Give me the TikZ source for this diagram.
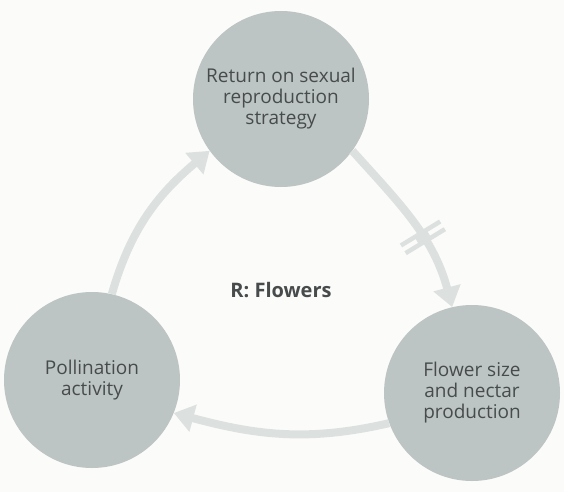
\documentclass[tikz,border=0pt]{standalone}
\usepackage{fontspec}
\setmainfont{Open Sans}
\usetikzlibrary{arrows.meta,calc}
\definecolor{bgcol}{HTML}{FBFBFA}
\definecolor{circcol}{HTML}{BDC5C4}
\definecolor{arrcol}{HTML}{DCE1E0}
\definecolor{txtcol}{HTML}{474B4C}
\tikzset{
  varnode/.style={circle, fill=circcol, minimum size=176pt, inner sep=0pt,
    text=txtcol, align=center, font=\fontsize{19}{21}\selectfont},
  linkarrow/.style={draw=arrcol, line width=8pt,
    -{Triangle[width=27pt,length=20pt]}},
  delaybar/.style={draw=arrcol, line width=4.5pt},
  delaygap/.style={draw=bgcol, line width=4.6pt}
}
\begin{document}
\begin{tikzpicture}[x=1pt,y=-1pt]
\fill[bgcol] (0,0) rectangle (564,492);
\useasboundingbox (0,0) rectangle (564,492);
\node[varnode] (top) at (281,99) {Return on sexual\\reproduction\\strategy};
\node[varnode] (left) at (92,380) {Pollination\\activity};
\node[varnode] (right) at (472,393) {Flower size\\and nectar\\production};
\node[text=txtcol, font=\fontsize{20}{21}\selectfont\bfseries] (lbl) at (281,290) {R: Flowers};
\draw[linkarrow] (top.-36) to[out=-48, in=105]
  coordinate[pos=0.57] (dA) coordinate[pos=0.6] (d0) coordinate[pos=0.63] (dB) (right.103);
\draw[linkarrow] (right.200) to[out=193, in=-15] (left.-22);
\draw[linkarrow] (left.77) to[out=74, in=220] (top.216);
% delay marks
\path let \p1=($(dB)-(dA)$), \n1={atan2(\y1,\x1)} in
  [delaygap] ($(d0)+(\n1+90:7pt)$) -- ($(d0)+(\n1-90:7pt)$)
  [delaybar] ($(d0)+(\n1+90:23pt)+(\n1:4.5pt)$) -- ($(d0)+(\n1-90:23pt)+(\n1:4.5pt)$)
  ($(d0)+(\n1+90:23pt)+(\n1:-4.5pt)$) -- ($(d0)+(\n1-90:23pt)+(\n1:-4.5pt)$);
\end{tikzpicture}
\end{document}
